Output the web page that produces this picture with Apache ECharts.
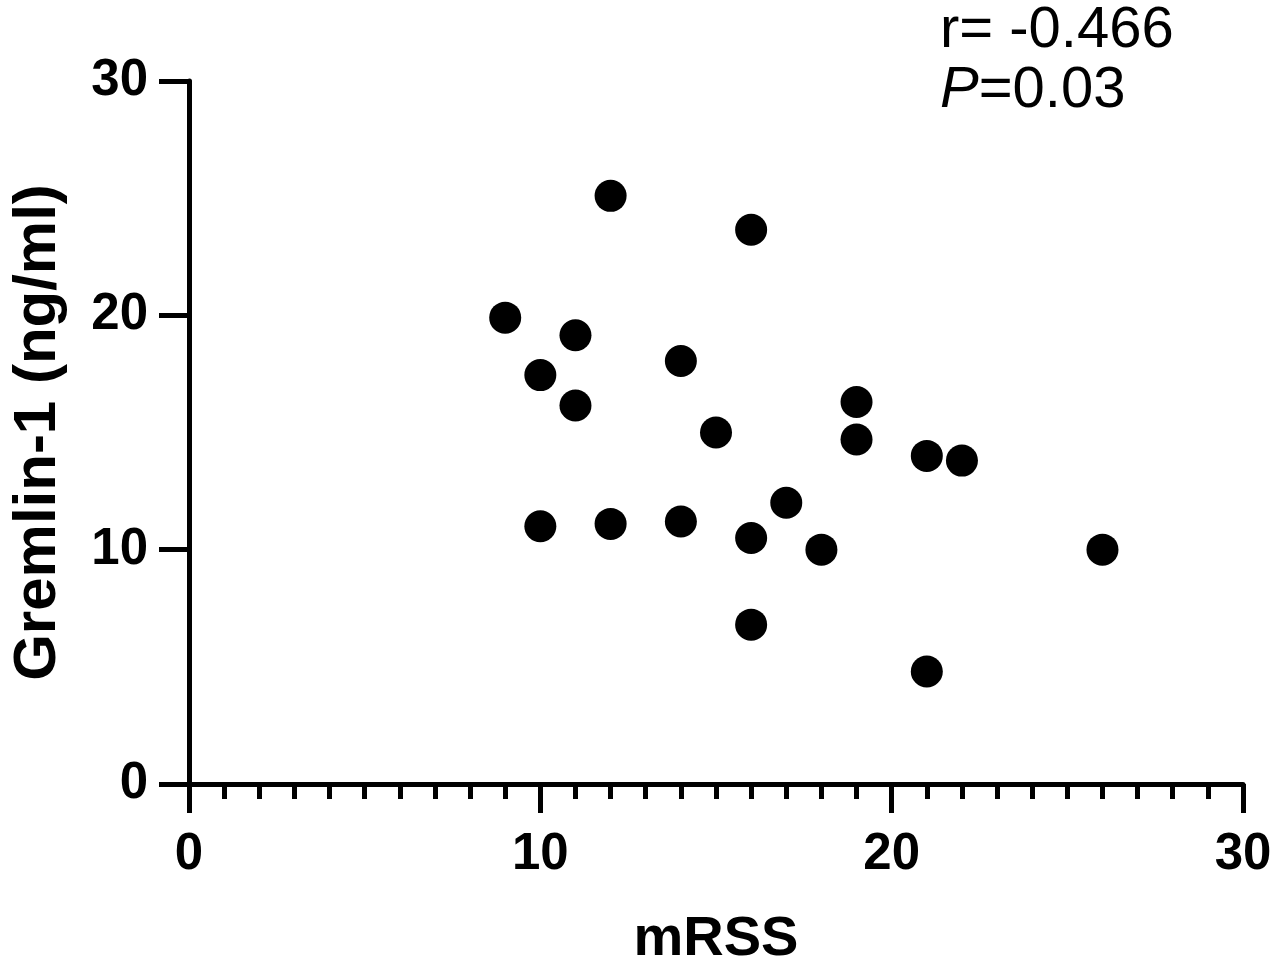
<!DOCTYPE html>
<html>
<head>
<meta charset="utf-8">
<script src="https://cdn.jsdelivr.net/npm/echarts@6/dist/echarts.min.js"></script>
<style>
  html, body { margin: 0; padding: 0; background: #fff; }
  #chart { width: 1280px; height: 973px; }
</style>
</head>
<body>
<div id="chart"></div>
<script>
// mRSS values (x) and Gremlin-1 values (y), one pair per patient
var mrss = [9, 10, 10, 11, 11, 12, 12, 14, 14, 15, 16, 16, 16, 17, 18, 19, 19, 21, 21, 22, 26];
var gremlin = [19.9, 17.45, 11.0, 19.15, 16.15, 25.1, 11.1, 18.05, 11.2, 15.0, 23.65, 10.5, 6.8, 12.0, 10.0, 16.3, 14.7, 14.0, 4.8, 13.8, 10.0];
var statR = '-0.466';
var statP = '0.03';

var chart = echarts.init(document.getElementById('chart'));

var points = [];
for (var i = 0; i < mrss.length; i++) {
    points.push([mrss[i], gremlin[i]]);
}

var font = 'Liberation Sans, Arial, sans-serif';

chart.setOption({
    animation: false,
    grid: { left: 186, right: 37, top: 81, bottom: 186 },
    xAxis: {
        type: 'value',
        min: 0, max: 30, interval: 10,
        name: 'mRSS',
        nameLocation: 'middle',
        nameGap: 128,
        nameTextStyle: { fontFamily: font, fontWeight: 'bold', fontSize: 56, color: '#000' },
        axisLine: { lineStyle: { color: '#000', width: 5 } },
        axisTick: { length: 29, lineStyle: { color: '#000', width: 5 } },
        minorTick: { show: true, splitNumber: 10, length: 15, lineStyle: { color: '#000', width: 5 } },
        axisLabel: { margin: 45, fontFamily: font, fontWeight: 'bold', fontSize: 51, color: '#000' },
        splitLine: { show: false }
    },
    yAxis: {
        type: 'value',
        min: 0, max: 30, interval: 10,
        name: 'Gremlin-1 (ng/ml)',
        nameLocation: 'middle',
        nameRotate: 90,
        nameGap: 121,
        nameTextStyle: { fontFamily: font, fontWeight: 'bold', fontSize: 60, color: '#000' },
        axisLine: { lineStyle: { color: '#000', width: 5 } },
        axisTick: { length: 30, lineStyle: { color: '#000', width: 5 } },
        axisLabel: { margin: 41, fontFamily: font, fontWeight: 'bold', fontSize: 51, color: '#000' },
        splitLine: { show: false }
    },
    series: [{
        type: 'scatter',
        data: points,
        symbol: 'circle',
        symbolSize: 32,
        itemStyle: { color: '#000', opacity: 1 }
    }],
    graphic: [{
        type: 'text',
        left: 940,
        top: 2,
        style: {
            text: '{n|r= ' + statR + '}\n{i|P}{n|=' + statP + '}',
            rich: {
                n: { fontFamily: font, fontSize: 58, lineHeight: 60, fill: '#000' },
                i: { fontFamily: font, fontSize: 58, lineHeight: 60, fontStyle: 'italic', fill: '#000' }
            }
        }
    }]
});
</script>
</body>
</html>
